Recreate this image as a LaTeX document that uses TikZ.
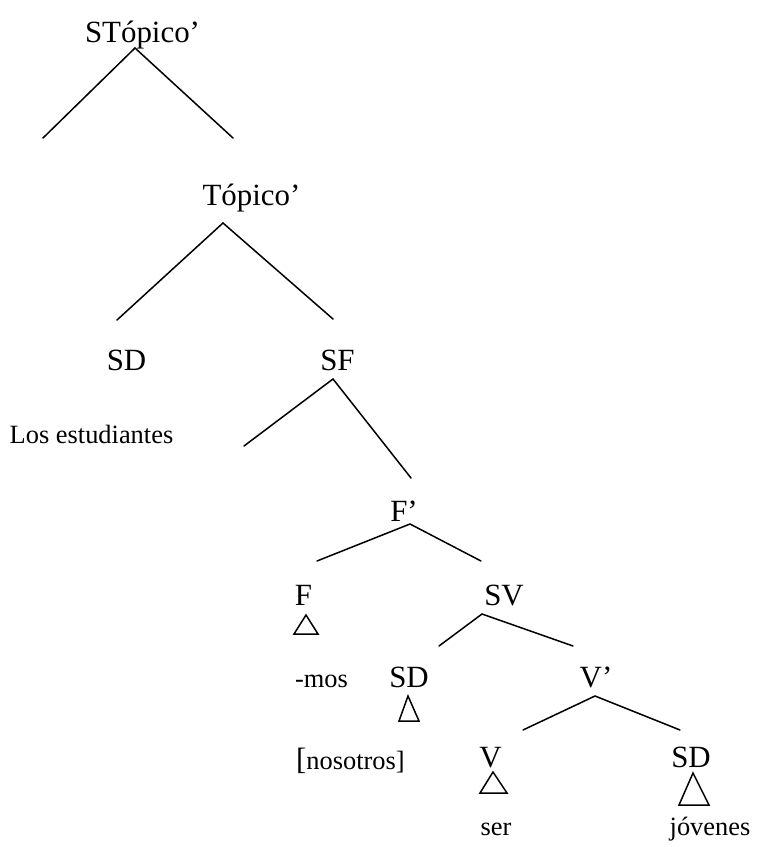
\documentclass[tikz,border=0pt]{standalone}
\usepackage{fontspec}
\setmainfont{Liberation Serif}
\usepackage{tikz}
\usetikzlibrary{calc}
\tikzset{
  cat/.style={font=\fontsize{31}{36}\selectfont, anchor=base, inner sep=0pt},
  word/.style={font=\fontsize{26.5}{30}\selectfont, anchor=base, inner sep=0pt},
  branch/.style={line width=1.5bp, line cap=round},
  roof/.style={line width=1.5bp, line join=miter}
}

\begin{document}
\begin{tikzpicture}[x=1bp, y=-1bp]
  \useasboundingbox (0,0) rectangle (759,847);
  % categories
  \node[cat] (stop) at (142.5,42) {STópico’};
  \node[cat] (top) at (251.5,205) {Tópico’};
  \node[cat] (sd1) at (126.5,370) {SD};
  \node[cat] (sf) at (337.5,370) {SF};
  \node[cat] (fbar) at (404,521) {F’};
  \node[cat] (f) at (303.5,605) {F};
  \node[cat] (sv) at (504,605) {SV};
  \node[cat] (sd2) at (409,687) {SD};
  \node[cat] (vbar) at (596,687) {V’};
  \node[cat] (v) at (490.5,767) {V};
  \node[cat] (sd3) at (691,767) {SD};
  % words
  \node[word] (los) at (91.5,443) {Los estudiantes};
  \node[word] (mos) at (321.5,687) {-mos};
  \node[word, anchor=base west] (nos) at (296,769) {{\fontsize{31}{36}\selectfont[}nosotros]};
  \node[word] (ser) at (496,835) {ser};
  \node[word] (jov) at (710,835) {jóvenes};
  % branch ends
  \coordinate (a1) at (135,48);   \coordinate (a1l) at (43,138);   \coordinate (a1r) at (233,138);
  \coordinate (a2) at (223,223);  \coordinate (a2l) at (117,320);  \coordinate (a2r) at (333,319);
  \coordinate (a3) at (333,379);  \coordinate (a3l) at (244,446);  \coordinate (a3r) at (411,478);
  \coordinate (a4) at (410,524);  \coordinate (a4l) at (317,561);  \coordinate (a4r) at (481,561);
  \coordinate (a5) at (482,614);  \coordinate (a5l) at (439,646);  \coordinate (a5r) at (573,646);
  \coordinate (a6) at (595,696);  \coordinate (a6l) at (523,730);  \coordinate (a6r) at (680,730);
  \foreach \p in {a1,a2,a3,a4,a5,a6}
    \draw[branch] (\p l) -- (\p) -- (\p r);
  % triangles
  \draw[roof] (306,615) -- (294,634) -- (318,634) -- cycle;
  \draw[roof] (408,696) -- (399,721) -- (419,721) -- cycle;
  \draw[roof] (493,772) -- (480,793) -- (507,793) -- cycle;
  \draw[roof] (693,773) -- (679,805) -- (709,805) -- cycle;
\end{tikzpicture}
\end{document}
